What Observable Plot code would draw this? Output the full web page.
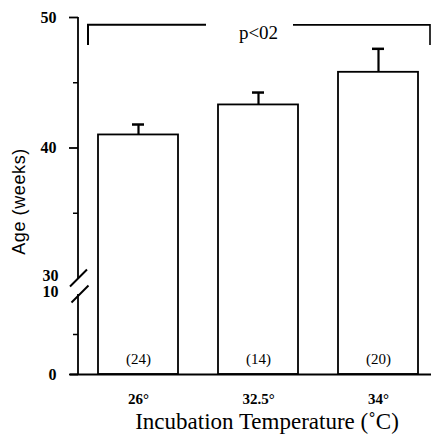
<!DOCTYPE html>
<html>
<head>
<meta charset="utf-8">
<script src="https://cdn.jsdelivr.net/npm/d3@7"></script>
<script src="https://cdn.jsdelivr.net/npm/@observablehq/plot@0.6"></script>
<style>
  html, body { margin: 0; padding: 0; background: #fff; }
</style>
</head>
<body>
<div id="chart"></div>
<script>
// ---- data ----
const temps = ["26°", "32.5°", "34°"];
const ages = [41.0, 43.3, 45.8];
const upper = [41.8, 44.25, 47.6];
const counts = [24, 14, 20];
const yMajorTicks = [0, 40, 50];
const yMinorTicks = [5, 35, 45];
const yBreakLabels = [10, 30];
const bracketLevel = 49.4;
const bracketDrop = 47.85;
const pText = "p<02";
const xTitle = "Incubation Temperature (˚C)";
const yTitle = "Age (weeks)";

const data = temps.map((t, i) => ({temp: t, age: ages[i], upper: upper[i], n: counts[i]}));

// axis line with break + significance bracket (drawn through the scales)
function decorations(index, scales, values, dims) {
  const g = d3.create("svg:g").attr("fill", "none").attr("stroke", "black");
  const ax = dims.marginLeft;
  const yTop = scales.y(50), y30 = scales.y(30), y10 = scales.y(10), y0 = scales.y(0);
  g.append("line").attr("x1", ax).attr("x2", ax).attr("y1", yTop).attr("y2", y30).attr("stroke-width", 1.8);
  g.append("line").attr("x1", ax).attr("x2", ax).attr("y1", y10).attr("y2", y0).attr("stroke-width", 1.8);
  for (const [cx, cy] of [[ax + 0.5, y30], [ax + 2, y10]]) {
    g.append("line").attr("x1", cx - 8.5).attr("y1", cy + 8.5).attr("x2", cx + 8.5).attr("y2", cy - 8.5).attr("stroke-width", 2);
  }
  // bracket
  const by = scales.y(bracketLevel), bd = scales.y(bracketDrop);
  const bw = scales.x.bandwidth ? scales.x.bandwidth() : 0;
  const left = scales.x(temps[0]) - 10;
  const right = dims.width - 1;
  const mid = scales.x(temps[1]) + bw / 2;
  g.append("path").attr("d", `M${left},${bd}V${by}H${mid - 52}`).attr("stroke-width", 2);
  g.append("path").attr("d", `M${mid + 35},${by}H${right}V${bd}`).attr("stroke-width", 1.6);
  return g.node();
}

const serif = "'Liberation Serif', serif";

const chart = Plot.plot({
  width: 431,
  height: 443,
  marginLeft: 78,
  marginRight: 0,
  marginTop: 17,
  marginBottom: 69,
  style: {fontFamily: serif, color: "black", background: "white"},
  x: {type: "band", domain: temps, range: [98, 418], paddingInner: 1/3, paddingOuter: 0, label: null, axis: null},
  y: {type: "linear", domain: [0, 10, 30, 50], range: [374, 294, 278, 17], label: null},
  marks: [
    Plot.barY(data, {x: "temp", y1: 0, y2: "age", fill: "white", stroke: "black", strokeWidth: 1.8}),
    Plot.ruleX(data, {x: "temp", y1: "age", y2: "upper", stroke: "black", strokeWidth: 2.2}),
    Plot.tickY(data, {x: "temp", y: "upper", stroke: "black", strokeWidth: 2.5, inset: 34}),
    Plot.text(data, {x: "temp", y: 0, text: d => `(${d.n})`, dy: -15, fontSize: 15, fontFamily: serif}),
    Plot.ruleY([0], {stroke: "black", strokeWidth: 1.8, insetLeft: -8}),
    Plot.axisY({ticks: yMajorTicks, tickSize: 9, tickFormat: () => "", strokeWidth: 1.8, label: null}),
    Plot.axisY({ticks: yMinorTicks, tickSize: 5, tickFormat: () => "", strokeWidth: 1.5, label: null}),
    Plot.text(yMajorTicks, {y: d => d, text: d => String(d), frameAnchor: "left", textAnchor: "end", dx: -22, fontSize: 16, fontWeight: "bold", fontFamily: serif}),
    Plot.text(yBreakLabels, {y: d => d, text: d => String(d), frameAnchor: "left", textAnchor: "end", dx: -20, dy: -2.5, fontSize: 16, fontWeight: "bold", fontFamily: serif}),
    Plot.text(temps, {x: d => d, y: 0, text: d => d, dy: 25, fontSize: 15, fontWeight: "bold", fontFamily: serif}),
    decorations,
    Plot.text([pText], {x: () => temps[1], frameAnchor: "top", y: bracketLevel, fontSize: 19, fontFamily: serif}),
    Plot.text([xTitle], {frameAnchor: "bottom", lineAnchor: "bottom", dx: 12, dy: 54, fontSize: 23, fontFamily: serif}),
    Plot.text([yTitle], {frameAnchor: "left", textAnchor: "middle", rotate: -90, dx: -59, dy: 5.5, fontSize: 18, fontFamily: "'Liberation Sans', sans-serif"})
  ]
});
d3.select(chart).selectAll("text").filter(function () { return this.textContent === yTitle; }).attr("letter-spacing", "0.6px");
document.getElementById("chart").appendChild(chart);
</script>
</body>
</html>
